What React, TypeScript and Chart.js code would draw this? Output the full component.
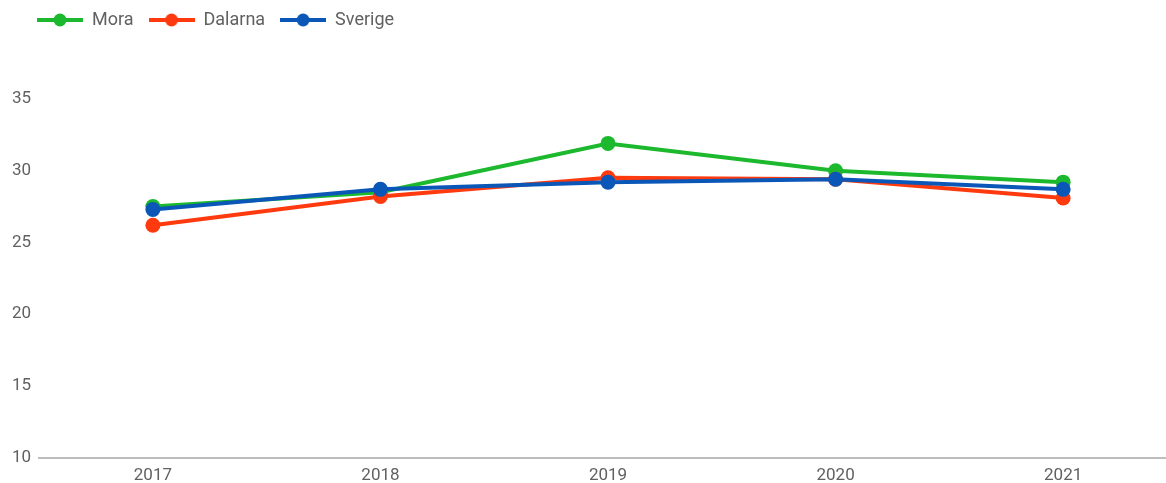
import React, { useEffect, useRef } from "react";
import { Chart, registerables } from "chart.js";

Chart.register(...registerables);

const years = [2017, 2018, 2019, 2020, 2021];
const mora = [27.5, 28.5, 31.9, 30.0, 29.2];
const dalarna = [26.2, 28.2, 29.5, 29.4, 28.1];
const sverige = [27.3, 28.7, 29.2, 29.4, 28.7];
const seriesNames = ["Mora", "Dalarna", "Sverige"];
const seriesColors = ["#1cb82d", "#ff3a0f", "#0b57b8"];
const yTicks = [10, 15, 20, 25, 30, 35];

function legendMarker(color: string): HTMLCanvasElement {
  const c = document.createElement("canvas");
  c.width = 46;
  c.height = 14;
  const ctx = c.getContext("2d")!;
  ctx.strokeStyle = color;
  ctx.lineWidth = 4;
  ctx.beginPath();
  ctx.moveTo(0, 7);
  ctx.lineTo(46, 7);
  ctx.stroke();
  ctx.fillStyle = color;
  ctx.beginPath();
  ctx.arc(23, 7, 6.5, 0, Math.PI * 2);
  ctx.fill();
  return c;
}

const legendShift = {
  id: "legendShift",
  afterLayout(chart: any) {
    const lg = chart.legend;
    if (!lg) return;
    const w = lg.right - lg.left;
    lg.left = 22;
    lg.right = 22 + w;
    const h = lg.bottom - lg.top;
    lg.top = -4;
    lg.bottom = -4 + h;
  },
};

export default function App() {
  const ref = useRef<HTMLCanvasElement | null>(null);
  useEffect(() => {
    if (!ref.current) return;
    const all = [mora, dalarna, sverige];
    const markers = seriesColors.map(legendMarker);
    const chart = new Chart(ref.current, {
      type: "line",
      data: {
        datasets: all.map((vals, i) => ({
          label: seriesNames[i],
          data: vals.map((v, j) => ({ x: years[j], y: v })),
          borderColor: seriesColors[i],
          backgroundColor: seriesColors[i],
          pointBackgroundColor: seriesColors[i],
          pointBorderColor: seriesColors[i],
          borderWidth: 4,
          pointRadius: 7.5,
          pointBorderWidth: 0,
          pointStyle: "circle",
          tension: 0,
          order: 3 - i,
        })) as any,
      },
      options: {
        animation: false,
        responsive: false,
        layout: { autoPadding: false, padding: { left: 4, right: 0, top: 0, bottom: 0 } },
        font: { family: "Roboto", size: 17 } as any,
        plugins: {
          tooltip: { enabled: false },
          legend: {
            display: true,
            position: "top",
            align: "start",
            labels: {
              usePointStyle: true,
              pointStyleWidth: 46,
              padding: 15,
              color: "#616161",
              font: { family: "Roboto", size: 18 },
              generateLabels: (ch: any) =>
                ch.data.datasets.map((ds: any, i: number) => ({
                  text: ds.label,
                  fillStyle: seriesColors[i],
                  strokeStyle: seriesColors[i],
                  lineWidth: 0,
                  pointStyle: markers[i],
                  datasetIndex: i,
                  hidden: false,
                  fontColor: "#616161",
                })),
            },
          },
        },
        scales: {
          x: {
            type: "linear",
            min: 2016.5,
            max: 2021.452,
            afterBuildTicks: (axis: any) => {
              axis.ticks = years.map((v) => ({ value: v }));
            },
            ticks: {
              color: "#616161",
              padding: 8,
              font: { family: "Roboto", size: 17 },
              callback: (v: any) => String(v),
              maxRotation: 0,
            },
            grid: { display: false, drawTicks: false },
            border: { display: true, color: "#bdbdbd", width: 2 },
          },
          y: {
            type: "linear",
            min: 10,
            max: 38.9,
            afterBuildTicks: (axis: any) => {
              axis.ticks = yTicks.map((v) => ({ value: v }));
            },
            ticks: {
              color: "#616161",
              padding: 8,
              font: { family: "Roboto", size: 17 },
              callback: (v: any) => String(v),
            },
            grid: { display: false, drawTicks: false },
            border: { display: false },
          },
        },
      } as any,
      plugins: [legendShift],
    });
    return () => chart.destroy();
  }, []);
  return (
    <div style={{ position: "absolute", left: 0, top: 0, width: 1166, height: 494 }}>
      <canvas ref={ref} width={1166} height={494} style={{ width: 1166, height: 494 }} />
    </div>
  );
}
